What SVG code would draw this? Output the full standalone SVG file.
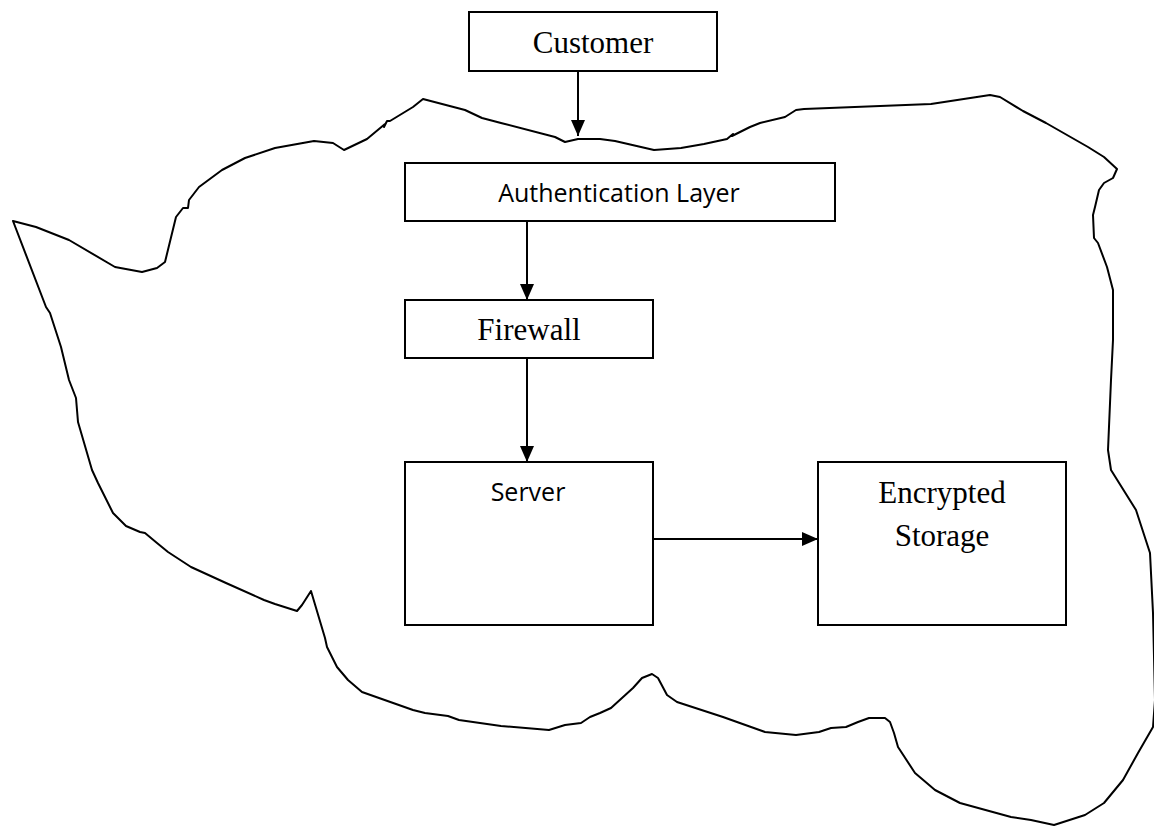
<svg xmlns="http://www.w3.org/2000/svg" width="1154" height="828" viewBox="0 0 1154 828">
<style>
.box{fill:#fff;stroke:#000;stroke-width:2}
.serif{font-family:"Liberation Serif","Times New Roman",serif;font-size:31px;fill:#000;text-anchor:middle}
.sans{font-family:"Open Sans","Liberation Sans",sans-serif;font-size:25px;fill:#000;text-anchor:middle}
.conn{stroke:#000;stroke-width:2;fill:none}
.cloud{fill:none;stroke:#000;stroke-width:2;stroke-linejoin:round}
</style>
<defs>
<marker id="ah" markerUnits="userSpaceOnUse" markerWidth="16" markerHeight="14" refX="16" refY="7" orient="auto">
<path d="M0,0 L16,7 L0,14 Z" fill="#000"/>
</marker>
</defs>
<rect width="1154" height="828" fill="#fff"/>
<path class="cloud" d="M13,221 L36,227 L69,240 L115,267 L142,272 L157,268 L165,262 L176,217 L183,208 L188,208 L189,200 L199,187 L222,170 L245,158 L275,148 L314,141 L333,143 L344,150 L367,139 L385,124 L384,127 L387,121 L390,121 L413,107 L423,99 L465,110 L482,118 L501,123 L555,137 L565,142 L578,139 L600,139 L615,141 L654,150 L681,148 L704,144 L727,139 L733,134 L732,136 L750,127 L760,123 L785,117 L796,110 L804,109 L931,104 L990,95 L1000,97 L1023,111 L1046,123 L1088,147 L1104,157 L1117,169 L1113,178 L1104,183 L1099,190 L1095,207 L1093,215 L1094,238 L1098,243 L1107,267 L1113,290 L1113,340 L1111,380 L1108,450 L1111,470 L1136,510 L1150,553 L1153,613 L1155,700 L1153,727 L1138,753 L1123,780 L1104,803 L1085,815 L1054,825 L1031,820 L1011,817 L960,803 L935,790 L915,773 L898,747 L894,733 L890,722 L885,718 L869,718 L858,722 L846,727 L831,728 L819,732 L796,735 L765,732 L723,717 L677,702 L667,695 L658,678 L652,674 L642,678 L633,688 L611,708 L600,713 L590,717 L581,723 L565,725 L549,730 L501,726 L459,720 L448,716 L425,713 L413,710 L362,692 L348,680 L337,667 L332,657 L327,647 L325,638 L311,591 L302,605 L297,611 L275,604 L264,600 L226,583 L191,567 L168,552 L157,543 L145,533 L140,532 L126,526 L113,513 L98,483 L92,470 L78,422 L76,398 L69,380 L61,347 L50,313 L46,307 Z"/>
<g id="connectors">
<line class="conn" x1="578" y1="71" x2="578" y2="136" marker-end="url(#ah)"/>
<line class="conn" x1="527" y1="222" x2="527" y2="300" marker-end="url(#ah)"/>
<line class="conn" x1="527" y1="358" x2="527" y2="462" marker-end="url(#ah)"/>
<line class="conn" x1="652" y1="539" x2="818" y2="539" marker-end="url(#ah)"/>
</g>
<g id="customer">
<rect class="box" x="469" y="12" width="248" height="59"/>
<text class="serif" x="593" y="53">Customer</text>
</g>
<g id="auth">
<rect class="box" x="405" y="163" width="430" height="58"/>
<text class="sans" x="619" y="202">Authentication Layer</text>
</g>
<g id="firewall">
<rect class="box" x="405" y="300" width="248" height="58"/>
<text class="serif" x="529" y="340">Firewall</text>
</g>
<g id="server">
<rect class="box" x="405" y="462" width="248" height="163"/>
<text class="sans" x="528" y="501">Server</text>
</g>
<g id="storage">
<rect class="box" x="818" y="462" width="248" height="163"/>
<text class="serif" x="942" y="503">Encrypted</text>
<text class="serif" x="942" y="546">Storage</text>
</g>
</svg>
